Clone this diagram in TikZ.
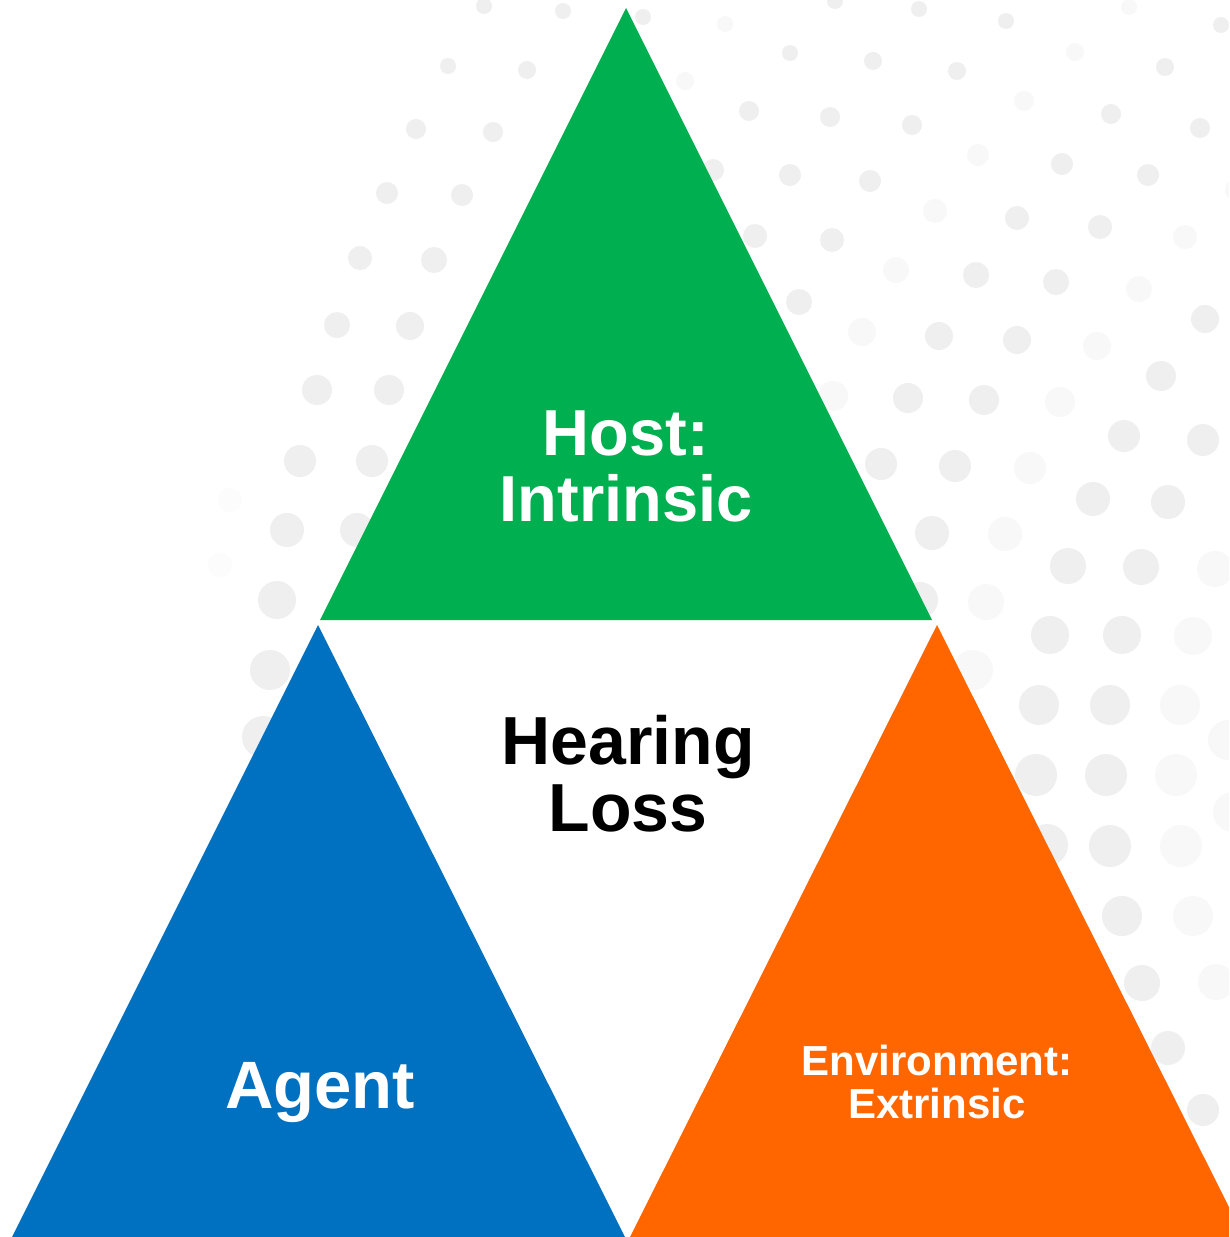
\documentclass[tikz,border=0pt]{standalone}
\usepackage{fontspec}
\setmainfont{Liberation Sans}
\definecolor{hostgreen}{HTML}{00AF50}
\definecolor{agentblue}{HTML}{0070C0}
\definecolor{envorange}{HTML}{FF6600}
\definecolor{dotdark}{HTML}{EFEFEF}
\definecolor{dotfaint}{HTML}{F8F8F8}
\definecolor{dotghost}{HTML}{FCFCFC}
\begin{document}
\begin{tikzpicture}[x=1pt,y=-1pt,
  lbl/.style={inner sep=0pt,align=center,font=\bfseries}]
\useasboundingbox (0,0) rectangle (1229,1237);
\fill[white] (0,0) rectangle (1229,1237);
\begin{scope}
\clip (0,0) rectangle (1229,1237);
% background halftone dots
\foreach \x/\y/\r in {484/6/8,563/11/8,448/66/8,527/70/9,416/129/10,493/132/10,387/193/11,462/195/11,360/258/12,434/260/13,337/325/13,410/326/14,317/390/15,389/390/15,300/461/16,372/461/16,287/530/17,357/530/17,277/600/19,270/670/20,263/737/21,
 643/17/8,835/1/8,919/9/8,1006/21/8,1221/25/8,790/53/8,873/61/9,957/71/9,1165/67/9,749/111/10,830/117/10,912/125/10,1111/114/10,1200/128/10,713/170/11,790/175/11,870/181/11,1062/164/11,1148/175/11,755/236/12,832/240/12,1017/218/12,1100/227/12,799/302/13,976/275/13,1056/282/13,1205/319/14,939/336/14,1017/340/14,1161/376/15,908/398/15,984/400/15,
 1124/436/16,1203/440/16,881/464/16,955/466/16,1093/499/17,1168/502/17,932/533/17,1068/566/18,1141/567/18,920/600/18,1050/635/19,1122/635/19,1039/705/20,1110/705/20,1036/775/21,1106/775/21,1047/845/21,1110/846/21,1122/916/20,1142/983/18,1168/1048/17,1203/1110/16}
  \fill[dotdark] (\x,\y) circle[radius=\r pt];
\foreach \x/\y/\r in {725/24/8,1129/7/8,685/81/9,1075/52/9,1024/101/10,978/155/11,1236/190/11,935/211/12,1185/237/12,896/270/13,1139/289/13,862/332/14,1097/346/14,833/396/15,1060/402/15,1030/468/16,1005/534/17,1215/569/18,986/602/18,1193/636/19,973/670/20,1180/705/20,1228/740/20,1176/775/21,1181/846/21,1233/812/20,1193/916/20,1216/982/18}
  \fill[dotfaint] (\x,\y) circle[radius=\r pt];
\foreach \x/\y/\r in {230/500/12,220/565/12}
  \fill[dotghost] (\x,\y) circle[radius=\r pt];
% triangles
\coordinate (gA) at (626,8);
\coordinate (gB) at (320,620);
\coordinate (gC) at (932,620);
\coordinate (bA) at (318,625);
\coordinate (bB) at (12,1237);
\coordinate (bC) at (625,1237);
\coordinate (oA) at (937,625);
\coordinate (oB) at (630,1237);
\coordinate (oC) at (1244,1237);
\fill[hostgreen] (gA) -- (gB) -- (gC) -- cycle;
\fill[agentblue] (bA) -- (bB) -- (bC) -- cycle;
\fill[envorange] (oA) -- (oB) -- (oC) -- cycle;
\end{scope}
% labels
\node[lbl,text=white,font=\bfseries\fontsize{65}{66}\selectfont] (host) at (626,466.5) {Host:\\Intrinsic};
\node[lbl,text=black,font=\bfseries\fontsize{68}{67}\selectfont] (hl) at (628,773.5) {Hearing\\Loss};
\node[lbl,text=white,font=\bfseries\fontsize{67}{67}\selectfont,anchor=base] (agent) at (320,1108) {Agent};
\node[lbl,text=white,font=\bfseries\fontsize{42}{43}\selectfont] (env) at (937,1082) {Environment:\\Extrinsic};
\end{tikzpicture}
\end{document}
